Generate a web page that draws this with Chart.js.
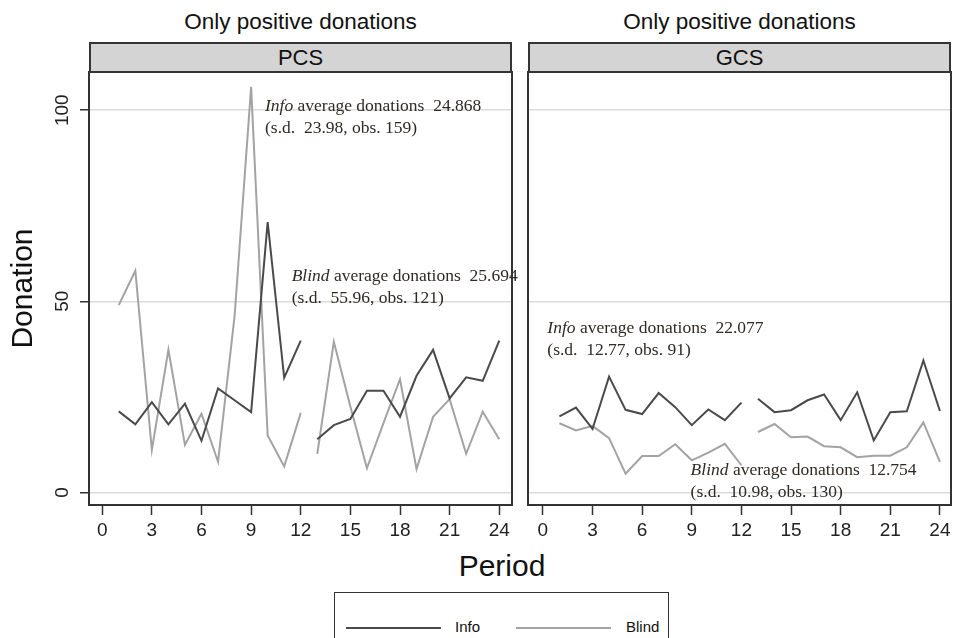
<!DOCTYPE html>
<html>
<head>
<meta charset="utf-8">
<script src="https://cdn.jsdelivr.net/npm/chart.js@4.4.1/dist/chart.umd.min.js"></script>
<style>
  html, body { margin: 0; padding: 0; background: #fff; }
  body { width: 955px; height: 638px; position: relative; overflow: hidden;
         font-family: "Liberation Sans", Arial, sans-serif; color: #111; }
  canvas { position: absolute; top: 0; }
  .ptitle { position: absolute; top: 7px; height: 30px; line-height: 30px;
            text-align: center; font-size: 22.5px; }
  .strip { position: absolute; top: 42px; height: 31px; box-sizing: border-box;
           border: 2px solid #333; background: #d4d4d4; text-align: center;
           font-size: 22px; line-height: 27px; }
  .xtitle { position: absolute; left: 402px; width: 200px; top: 548px; text-align: center;
            font-size: 30px; line-height: 36px; }
  .legend { position: absolute; left: 334px; top: 592px; width: 335px; height: 60px;
            box-sizing: border-box; border: 1.5px solid #333; background: #fff; }
  .legend .sw { position: absolute; top: 34px; height: 0; border-top: 2px solid; }
  .legend .lt { position: absolute; top: 25px; font-size: 15px; line-height: 18px; }
</style>
</head>
<body>
<div class="ptitle" style="left:89px;width:423px;">Only positive donations</div>
<div class="ptitle" style="left:528px;width:423px;">Only positive donations</div>
<div class="strip" style="left:89px;width:423px;">PCS</div>
<div class="strip" style="left:528px;width:423px;">GCS</div>
<canvas id="pcs" width="520" height="545" style="left:0;width:520px;height:545px;"></canvas>
<canvas id="gcs" width="435" height="545" style="left:520px;width:435px;height:545px;"></canvas>
<div class="xtitle">Period</div>
<div class="legend">
  <div class="sw" style="left:11px;width:95px;border-color:#4a4a4a;"></div>
  <div class="lt" style="left:120px;">Info</div>
  <div class="sw" style="left:181px;width:95px;border-color:#a3a3a3;"></div>
  <div class="lt" style="left:291px;">Blind</div>
</div>
<script>
// Periods of the session (two blocks of 12)
const periods = [1,2,3,4,5,6,7,8,9,10,11,12,13,14,15,16,17,18,19,20,21,22,23,24];

// Mean positive donation per period, PCS treatment
const pcsInfo  = [21.2,17.8,23.6,17.8,23.2,13.5,27.2,24.1,21.0,70.7,30.0,39.7,
                  13.9,17.6,19.2,26.6,26.6,19.8,30.5,37.3,24.6,30.1,29.2,39.7];
const pcsBlind = [49.0,58.0,11.1,37.3,12.4,20.6,8.0,46.1,106.1,14.9,6.8,20.8,
                  10.1,39.4,22.5,6.3,18.1,29.6,6.1,19.8,24.4,10.1,21.1,13.9];

// Mean positive donation per period, GCS treatment
const gcsInfo  = [19.9,22.2,16.6,30.3,21.6,20.5,26.0,22.3,17.6,21.7,18.9,23.5,
                  24.5,21.0,21.5,24.1,25.6,18.9,26.2,13.6,21.0,21.2,34.5,21.3];
const gcsBlind = [18.1,16.2,17.4,14.2,4.9,9.5,9.5,12.6,8.4,10.4,12.7,7.1,
                  15.8,17.9,14.4,14.6,12.1,11.8,9.2,9.6,9.6,11.8,18.3,8.0];

// Axis ticks
const xTicks = [0,3,6,9,12,15,18,21,24];
const yTicks = [0,50,100];

// Summary statistics written inside each panel
const pcsNotes = [
  { group: 'Info',  mean: '24.868', sd: '23.98', obs: '159' },
  { group: 'Blind', mean: '25.694', sd: '55.96', obs: '121' }
];
const gcsNotes = [
  { group: 'Info',  mean: '22.077', sd: '12.77', obs: '91' },
  { group: 'Blind', mean: '12.754', sd: '10.98', obs: '130' }
];

// Where each note sits, in data units (period, donation)
const pcsNoteAt = [[9.84, 101.0], [11.45, 56.5]];
const gcsNoteAt = [[0.27, 42.9], [8.93, 5.7]];

const DARK = '#4a4a4a';
const LIGHT = '#a3a3a3';

// Split the series between the two 12-period blocks
function toPoints(vals) {
  const pts = [];
  periods.forEach((p, i) => {
    if (p === 13) pts.push({ x: 12.5, y: null });
    pts.push({ x: p, y: vals[i] });
  });
  return pts;
}

const panelFrame = {
  id: 'panelFrame',
  afterDatasetsDraw(chart) {
    const a = chart.chartArea, ctx = chart.ctx;
    ctx.save();
    ctx.strokeStyle = '#333';
    ctx.lineWidth = 2;
    ctx.strokeRect(a.left, a.top, a.right - a.left, a.bottom - a.top);
    ctx.restore();
  }
};

const notesPlugin = {
  id: 'notes',
  afterDatasetsDraw(chart, args, opts) {
    const ctx = chart.ctx, xs = chart.scales.x, ys = chart.scales.y;
    ctx.save();
    ctx.fillStyle = '#2f2a25';
    ctx.textBaseline = 'middle';
    ctx.textAlign = 'left';
    opts.notes.forEach((n, i) => {
      const x = xs.getPixelForValue(opts.at[i][0]);
      const y = ys.getPixelForValue(opts.at[i][1]);
      ctx.font = 'italic 17.5px "Liberation Serif", "Times New Roman", serif';
      ctx.fillText(n.group, x, y);
      const w = ctx.measureText(n.group).width;
      ctx.font = '17.5px "Liberation Serif", "Times New Roman", serif';
      ctx.fillText(' average donations  ' + n.mean, x + w, y);
      ctx.fillText('(s.d.  ' + n.sd + ', obs. ' + n.obs + ')', x, y + 22);
    });
    ctx.restore();
  }
};

function makeChart(id, info, blind, notes, noteAt, isLeft, xMin, xMax) {
  return new Chart(document.getElementById(id), {
    type: 'line',
    data: {
      datasets: [
        { label: 'Info',  data: toPoints(info),  borderColor: DARK,  borderWidth: 2 },
        { label: 'Blind', data: toPoints(blind), borderColor: LIGHT, borderWidth: 2 }
      ]
    },
    options: {
      responsive: false,
      animation: false,
      spanGaps: false,
      elements: { point: { radius: 0 }, line: { tension: 0 } },
      layout: { padding: isLeft ? { top: 72, right: 8, left: 0, bottom: 0 }
                                : { top: 72, right: 4, left: 8, bottom: 0 } },
      plugins: {
        legend: { display: false },
        tooltip: { enabled: false },
        notes: { notes: notes, at: noteAt }
      },
      scales: {
        x: {
          type: 'linear', min: xMin, max: xMax,
          afterBuildTicks: s => { s.ticks = xTicks.map(v => ({ value: v })); },
          afterFit: s => { s.height = 40; },
          border: { display: false },
          grid: { color: 'rgba(0,0,0,0)', drawOnChartArea: false, drawTicks: true,
                  tickLength: 10, tickColor: '#333', tickWidth: 1.5 },
          ticks: { autoSkip: false, maxRotation: 0, padding: 4, color: '#222',
                   font: { family: '"Liberation Sans", Arial, sans-serif', size: 19 } }
        },
        y: {
          type: 'linear', min: -3.3, max: 110,
          afterBuildTicks: s => { s.ticks = yTicks.map(v => ({ value: v })); },
          afterFit: s => { s.width = isLeft ? 89 : 0; },
          border: { display: false },
          grid: { color: '#dcdcdc', lineWidth: 1.5, drawTicks: isLeft,
                  tickLength: 9, tickColor: '#333', tickWidth: 1.5 },
          ticks: { display: isLeft, minRotation: 90, maxRotation: 90, crossAlign: 'center',
                   padding: 1, color: '#222',
                   font: { family: '"Liberation Sans", Arial, sans-serif', size: 19 } },
          title: { display: isLeft, text: 'Donation', color: '#111',
                   padding: { top: 6, bottom: 0 },
                   font: { family: '"Liberation Sans", Arial, sans-serif', size: 30 } }
        }
      }
    },
    plugins: [notesPlugin, panelFrame]
  });
}

makeChart('pcs', pcsInfo, pcsBlind, pcsNotes, pcsNoteAt, true, -0.8, 24.77);
makeChart('gcs', gcsInfo, gcsBlind, gcsNotes, gcsNoteAt, false, -0.9, 24.67);
</script>
</body>
</html>
